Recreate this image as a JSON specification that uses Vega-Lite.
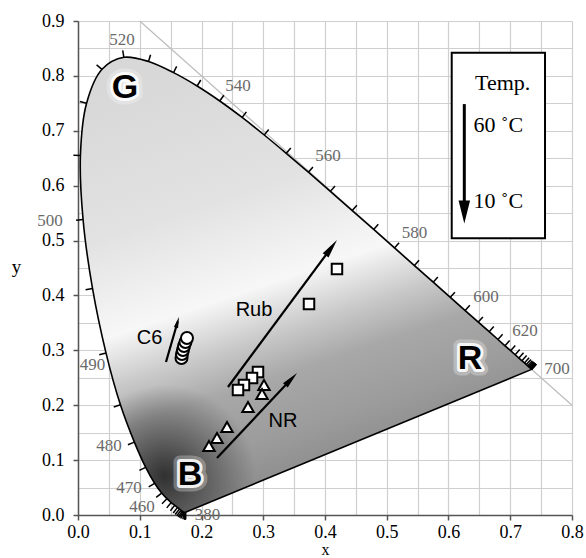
{
  "$schema": "https://vega.github.io/schema/vega-lite/v6.json",
  "width": 494,
  "height": 494,
  "autosize": "none",
  "padding": {"left": 78, "top": 21, "right": 14, "bottom": 43},
  "background": "white",
  "config": {"view": {"stroke": null}},
  "datasets": {
    "locus": [
      {"wl":380,"x":0.1741,"y":0.0050,"x2":0.1741,"y2":-0.0078},
      {"wl":385,"x":0.1740,"y":0.0050,"x2":0.1740,"y2":-0.0078},
      {"wl":390,"x":0.1738,"y":0.0049,"x2":0.1738,"y2":-0.0079},
      {"wl":395,"x":0.1736,"y":0.0049,"x2":0.1736,"y2":-0.0079},
      {"wl":400,"x":0.1733,"y":0.0048,"x2":0.1733,"y2":-0.0080},
      {"wl":405,"x":0.1730,"y":0.0048,"x2":0.1730,"y2":-0.0080},
      {"wl":410,"x":0.1726,"y":0.0048,"x2":0.1726,"y2":-0.0080},
      {"wl":415,"x":0.1721,"y":0.0048,"x2":0.1698,"y2":-0.0077},
      {"wl":420,"x":0.1714,"y":0.0051,"x2":0.1664,"y2":-0.0063},
      {"wl":425,"x":0.1703,"y":0.0058,"x2":0.1642,"y2":-0.0049},
      {"wl":430,"x":0.1689,"y":0.0069,"x2":0.1622,"y2":-0.0034},
      {"wl":435,"x":0.1669,"y":0.0086,"x2":0.1599,"y2":-0.0014},
      {"wl":440,"x":0.1644,"y":0.0109,"x2":0.1573,"y2":0.0009},
      {"wl":445,"x":0.1611,"y":0.0138,"x2":0.1542,"y2":0.0037},
      {"wl":450,"x":0.1566,"y":0.0177,"x2":0.1496,"y2":0.0077},
      {"wl":455,"x":0.1510,"y":0.0227,"x2":0.1437,"y2":0.0130},
      {"wl":460,"x":0.1440,"y":0.0297,"x2":0.1360,"y2":0.0206},
      {"wl":465,"x":0.1355,"y":0.0399,"x2":0.1266,"y2":0.0320},
      {"wl":470,"x":0.1241,"y":0.0578,"x2":0.1145,"y2":0.0511},
      {"wl":475,"x":0.1096,"y":0.0868,"x2":0.0994,"y2":0.0812},
      {"wl":480,"x":0.0913,"y":0.1327,"x2":0.0808,"y2":0.1279},
      {"wl":485,"x":0.0687,"y":0.2007,"x2":0.0579,"y2":0.1968},
      {"wl":490,"x":0.0454,"y":0.2950,"x2":0.0344,"y2":0.2920},
      {"wl":495,"x":0.0235,"y":0.4127,"x2":0.0123,"y2":0.4105},
      {"wl":500,"x":0.0082,"y":0.5384,"x2":-0.0031,"y2":0.5372},
      {"wl":505,"x":0.0039,"y":0.6548,"x2":-0.0074,"y2":0.6552},
      {"wl":510,"x":0.0139,"y":0.7502,"x2":0.0029,"y2":0.7533},
      {"wl":515,"x":0.0389,"y":0.8120,"x2":0.0301,"y2":0.8200},
      {"wl":520,"x":0.0743,"y":0.8338,"x2":0.0724,"y2":0.8464},
      {"wl":525,"x":0.1142,"y":0.8262,"x2":0.1175,"y2":0.8384},
      {"wl":530,"x":0.1547,"y":0.8059,"x2":0.1598,"y2":0.8173},
      {"wl":535,"x":0.1929,"y":0.7816,"x2":0.1988,"y2":0.7925},
      {"wl":540,"x":0.2296,"y":0.7543,"x2":0.2361,"y2":0.7648},
      {"wl":545,"x":0.2658,"y":0.7243,"x2":0.2727,"y2":0.7344},
      {"wl":550,"x":0.3016,"y":0.6923,"x2":0.3088,"y2":0.7022},
      {"wl":555,"x":0.3373,"y":0.6589,"x2":0.3446,"y2":0.6687},
      {"wl":560,"x":0.3731,"y":0.6245,"x2":0.3805,"y2":0.6342},
      {"wl":565,"x":0.4087,"y":0.5896,"x2":0.4162,"y2":0.5992},
      {"wl":570,"x":0.4441,"y":0.5547,"x2":0.4516,"y2":0.5643},
      {"wl":575,"x":0.4788,"y":0.5202,"x2":0.4863,"y2":0.5297},
      {"wl":580,"x":0.5125,"y":0.4866,"x2":0.5200,"y2":0.4961},
      {"wl":585,"x":0.5448,"y":0.4544,"x2":0.5523,"y2":0.4639},
      {"wl":590,"x":0.5752,"y":0.4242,"x2":0.5827,"y2":0.4337},
      {"wl":595,"x":0.6029,"y":0.3965,"x2":0.6104,"y2":0.4060},
      {"wl":600,"x":0.6270,"y":0.3725,"x2":0.6345,"y2":0.3820},
      {"wl":605,"x":0.6482,"y":0.3514,"x2":0.6557,"y2":0.3609},
      {"wl":610,"x":0.6658,"y":0.3340,"x2":0.6733,"y2":0.3435},
      {"wl":615,"x":0.6801,"y":0.3197,"x2":0.6876,"y2":0.3292},
      {"wl":620,"x":0.6915,"y":0.3083,"x2":0.6990,"y2":0.3178},
      {"wl":625,"x":0.7006,"y":0.2993,"x2":0.7081,"y2":0.3088},
      {"wl":630,"x":0.7079,"y":0.2920,"x2":0.7154,"y2":0.3015},
      {"wl":635,"x":0.7140,"y":0.2859,"x2":0.7215,"y2":0.2954},
      {"wl":640,"x":0.7190,"y":0.2809,"x2":0.7265,"y2":0.2904},
      {"wl":645,"x":0.7230,"y":0.2770,"x2":0.7305,"y2":0.2865},
      {"wl":650,"x":0.7260,"y":0.2740,"x2":0.7335,"y2":0.2835},
      {"wl":655,"x":0.7283,"y":0.2717,"x2":0.7358,"y2":0.2812},
      {"wl":660,"x":0.7300,"y":0.2700,"x2":0.7375,"y2":0.2795},
      {"wl":665,"x":0.7311,"y":0.2689,"x2":0.7386,"y2":0.2784},
      {"wl":670,"x":0.7320,"y":0.2680,"x2":0.7395,"y2":0.2775},
      {"wl":675,"x":0.7327,"y":0.2673,"x2":0.7402,"y2":0.2768},
      {"wl":680,"x":0.7334,"y":0.2666,"x2":0.7409,"y2":0.2761},
      {"wl":685,"x":0.7340,"y":0.2660,"x2":0.7415,"y2":0.2755},
      {"wl":690,"x":0.7344,"y":0.2656,"x2":0.7419,"y2":0.2751},
      {"wl":695,"x":0.7346,"y":0.2654,"x2":0.7421,"y2":0.2749},
      {"wl":700,"x":0.7347,"y":0.2653,"x2":0.7422,"y2":0.2748}
    ],
    "purple": [{"x":0.1741,"y":0.0050,"x2":0.7347,"y2":0.2653}],
    "diag": [{"x":0.1,"y":0.9,"x2":0.8,"y2":0.2}],
    "wlLabels": [
      {"label":"520","x":0.0713,"y":0.8652},
      {"label":"540","x":0.2591,"y":0.7814},
      {"label":"560","x":0.4049,"y":0.6539},
      {"label":"580","x":0.5449,"y":0.5137},
      {"label":"600","x":0.6607,"y":0.3971},
      {"label":"620","x":0.7239,"y":0.3352},
      {"label":"700","x":0.7757,"y":0.2659},
      {"label":"500","x":-0.0453,"y":0.5355},
      {"label":"490","x":0.0235,"y":0.2741},
      {"label":"480","x":0.0502,"y":0.1257},
      {"label":"470","x":0.0826,"y":0.0483},
      {"label":"460","x":0.1036,"y":0.0137},
      {"label":"380","x":0.2097,"y":0.0005}
    ],
    "arrows": [
      {"name":"Rub","x":0.2429,"y":0.2332,"x2":0.4116,"y2":0.4892},
      {"name":"NR","x":0.2251,"y":0.1038,"x2":0.3458,"y2":0.2481},
      {"name":"C6","x":0.1425,"y":0.2787,"x2":0.1614,"y2":0.3520}
    ],
    "tips": [
      {"name":"Rub","x":0.4194,"y":0.5009},
      {"name":"NR","x":0.3547,"y":0.2587},
      {"name":"C6","x":0.1636,"y":0.3607}
    ],
    "circles": [
      {"x":0.1676,"y":0.2860},
      {"x":0.1684,"y":0.2933},
      {"x":0.1700,"y":0.3005},
      {"x":0.1717,"y":0.3078},
      {"x":0.1741,"y":0.3151},
      {"x":0.1765,"y":0.3224}
    ],
    "squares": [
      {"x":0.4194,"y":0.4481},
      {"x":0.3741,"y":0.3843},
      {"x":0.2915,"y":0.2605},
      {"x":0.2818,"y":0.2495},
      {"x":0.2688,"y":0.2368},
      {"x":0.2591,"y":0.2277}
    ],
    "triangles": [
      {"x":0.3012,"y":0.2368},
      {"x":0.2980,"y":0.2204},
      {"x":0.2753,"y":0.1967},
      {"x":0.2413,"y":0.1603},
      {"x":0.2251,"y":0.1403},
      {"x":0.2121,"y":0.1257}
    ],
    "regions": [
      {"label":"G","x":0.0761,"y":0.7787},
      {"label":"B","x":0.1814,"y":0.0729},
      {"label":"R","x":0.6348,"y":0.2851}
    ],
    "series": [
      {"label":"Rub","x":0.2850,"y":0.3734},
      {"label":"NR","x":0.3320,"y":0.1721},
      {"label":"C6","x":0.1158,"y":0.3233}
    ],
    "legendBox": [{"x":0.6052,"y":0.8421,"x2":0.7563,"y2":0.5040}],
    "legendText": [
      {"label":"Temp.","x":0.6429,"y":0.7741},
      {"label":"60 ˚C","x":0.6406,"y":0.6985},
      {"label":"10 ˚C","x":0.6406,"y":0.5592}
    ],
    "legendShaft": [{"x":0.6256,"y":0.7486,"x2":0.6256,"y2":0.5495}],
    "legendTip": [{"x":0.6256,"y":0.5313}]
  },
  "encoding": {
    "x": {
      "field": "x", "type": "quantitative",
      "scale": {"domain": [0, 0.8], "nice": false, "zero": false},
      "axis": {
        "title": "x",
        "values": [0,0.05,0.1,0.15,0.2,0.25,0.3,0.35,0.4,0.45,0.5,0.55,0.6,0.65,0.7,0.75,0.8],
        "labelExpr": "round(datum.value*20)%2==0 ? format(datum.value,'.1f') : ''",
        "grid": true, "gridColor": "#cfcfcf", "gridWidth": 1.2,
        "domainColor": "#555555", "domainWidth": 1.5,
        "tickColor": "#555555", "tickWidth": 1.5, "tickSize": 5,
        "tickOpacity": {"condition": {"test": "round(datum.value*20)%2==1", "value": 0}, "value": 1},
        "labelFont": "Liberation Serif", "labelFontSize": 18, "labelColor": "#000000", "labelPadding": 3,
        "labelFlush": false, "labelOverlap": false,
        "titleFont": "Liberation Serif", "titleFontSize": 16, "titleFontWeight": "normal", "titleColor": "#000000",
        "titleY": 42.5, "titleBaseline": "bottom"
      }
    },
    "y": {
      "field": "y", "type": "quantitative",
      "scale": {"domain": [0, 0.9], "nice": false, "zero": false},
      "axis": {
        "title": "y",
        "values": [0,0.05,0.1,0.15,0.2,0.25,0.3,0.35,0.4,0.45,0.5,0.55,0.6,0.65,0.7,0.75,0.8,0.85,0.9],
        "labelExpr": "round(datum.value*20)%2==0 ? format(datum.value,'.1f') : ''",
        "grid": true, "gridColor": "#cfcfcf", "gridWidth": 1.2,
        "domainColor": "#555555", "domainWidth": 1.5,
        "tickColor": "#555555", "tickWidth": 1.5, "tickSize": 5,
        "tickOpacity": {"condition": {"test": "round(datum.value*20)%2==1", "value": 0}, "value": 1},
        "labelFont": "Liberation Serif", "labelFontSize": 18, "labelColor": "#000000", "labelPadding": 9,
        "labelFlush": false, "labelOverlap": false,
        "titleFont": "Liberation Serif", "titleFontSize": 19, "titleFontWeight": "normal", "titleColor": "#000000",
        "titleAngle": 0, "titleX": -62, "titleY": 245, "titleAlign": "center", "titleBaseline": "middle"
      }
    }
  },
  "layer": [
    {
      "data": {"name": "diag"},
      "mark": {"type": "rule", "color": "#bdbdbd", "strokeWidth": 1.2},
      "encoding": {"x2": {"field": "x2"}, "y2": {"field": "y2"}}
    },
    {
      "data": {"name": "locus"},
      "mark": {
        "type": "line", "interpolate": "catmull-rom", "strokeWidth": 0, "strokeOpacity": 0,
        "fill": {
          "gradient": "linear", "x1": 0.3, "y1": 0, "x2": 0.65, "y2": 1.05,
          "stops": [
            {"offset": 0, "color": "#d8d8d8"},
            {"offset": 0.27, "color": "#e2e2e2"},
            {"offset": 0.46, "color": "#f7f7f7"},
            {"offset": 0.56, "color": "#c8c8c8"},
            {"offset": 0.64, "color": "#a8a8a8"},
            {"offset": 0.75, "color": "#9c9c9c"},
            {"offset": 0.85, "color": "#8c8c8c"},
            {"offset": 1, "color": "#7c7c7c"}
          ]
        }
      },
      "encoding": {"order": {"field": "wl", "type": "quantitative"}}
    },
    {
      "data": {"name": "locus"},
      "mark": {
        "type": "line", "interpolate": "catmull-rom", "strokeWidth": 0, "strokeOpacity": 0,
        "fill": {
          "gradient": "radial", "x1": 0.19, "y1": 0.92, "r1": 0, "x2": 0.19, "y2": 0.92, "r2": 0.2,
          "stops": [
            {"offset": 0, "color": "rgba(30,30,30,0.85)"},
            {"offset": 0.4, "color": "rgba(30,30,30,0.5)"},
            {"offset": 1, "color": "rgba(30,30,30,0)"}
          ]
        }
      },
      "encoding": {"order": {"field": "wl", "type": "quantitative"}}
    },
    {
      "data": {"name": "locus"},
      "mark": {"type": "line", "interpolate": "catmull-rom", "color": "#000000", "strokeWidth": 1.6},
      "encoding": {"order": {"field": "wl", "type": "quantitative"}}
    },
    {
      "data": {"name": "purple"},
      "mark": {"type": "rule", "color": "#000000", "strokeWidth": 1.6},
      "encoding": {"x2": {"field": "x2"}, "y2": {"field": "y2"}}
    },
    {
      "data": {"name": "locus"},
      "mark": {"type": "rule", "color": "#000000", "strokeWidth": 1.5},
      "encoding": {"x2": {"field": "x2"}, "y2": {"field": "y2"}}
    },
    {
      "data": {"name": "wlLabels"},
      "mark": {"type": "text", "font": "Liberation Serif", "fontSize": 17, "color": "#6a6a6a", "align": "center", "baseline": "middle"},
      "encoding": {"text": {"field": "label"}}
    },
    {
      "data": {"name": "arrows"},
      "mark": {"type": "rule", "color": "#000000", "strokeWidth": 2.2},
      "encoding": {"x2": {"field": "x2"}, "y2": {"field": "y2"}}
    },
    {
      "data": {"name": "tips"},
      "transform": [{"filter": "datum.name == 'Rub'"}],
      "mark": {"type": "point", "shape": "M0,0L0.38,2L-0.38,2Z", "size": 361, "angle": 36.6, "filled": true, "color": "#000000", "opacity": 1}
    },
    {
      "data": {"name": "tips"},
      "transform": [{"filter": "datum.name == 'NR'"}],
      "mark": {"type": "point", "shape": "M0,0L0.38,2L-0.38,2Z", "size": 289, "angle": 43.3, "filled": true, "color": "#000000", "opacity": 1}
    },
    {
      "data": {"name": "tips"},
      "transform": [{"filter": "datum.name == 'C6'"}],
      "mark": {"type": "point", "shape": "M0,0L0.4,2L-0.4,2Z", "size": 121, "angle": 16.1, "filled": true, "color": "#000000", "opacity": 1}
    },
    {
      "data": {"name": "circles"},
      "mark": {"type": "point", "shape": "circle", "size": 144, "filled": true, "fill": "#ffffff", "stroke": "#000000", "strokeWidth": 2, "opacity": 1}
    },
    {
      "data": {"name": "squares"},
      "mark": {"type": "point", "shape": "square", "size": 110, "filled": true, "fill": "#ffffff", "stroke": "#000000", "strokeWidth": 2, "opacity": 1}
    },
    {
      "data": {"name": "triangles"},
      "mark": {"type": "point", "shape": "triangle-up", "size": 130, "filled": true, "fill": "#ffffff", "stroke": "#000000", "strokeWidth": 2, "opacity": 1}
    },
    {
      "data": {"name": "regions"},
      "mark": {"type": "text", "font": "Liberation Sans", "fontWeight": "bold", "fontSize": 34, "align": "center", "baseline": "middle", "fill": "#ffffff", "stroke": "#ffffff", "strokeWidth": 13, "strokeOpacity": 0.3, "strokeJoin": "round"},
      "encoding": {"text": {"field": "label"}}
    },
    {
      "data": {"name": "regions"},
      "mark": {"type": "text", "font": "Liberation Sans", "fontWeight": "bold", "fontSize": 34, "align": "center", "baseline": "middle", "fill": "#ffffff", "stroke": "#ffffff", "strokeWidth": 6, "strokeOpacity": 0.9, "strokeJoin": "round"},
      "encoding": {"text": {"field": "label"}}
    },
    {
      "data": {"name": "regions"},
      "mark": {"type": "text", "font": "Liberation Sans", "fontWeight": "bold", "fontSize": 34, "align": "center", "baseline": "middle", "color": "#000000"},
      "encoding": {"text": {"field": "label"}}
    },
    {
      "data": {"name": "series"},
      "mark": {"type": "text", "font": "Liberation Sans", "fontSize": 20, "align": "center", "baseline": "middle", "color": "#000000"},
      "encoding": {"text": {"field": "label"}}
    },
    {
      "data": {"name": "legendBox"},
      "mark": {"type": "rect", "fill": "#ffffff", "stroke": "#000000", "strokeWidth": 2},
      "encoding": {"x2": {"field": "x2"}, "y2": {"field": "y2"}}
    },
    {
      "data": {"name": "legendText"},
      "mark": {"type": "text", "font": "Liberation Serif", "fontSize": 22, "align": "left", "baseline": "alphabetic", "color": "#000000"},
      "encoding": {"text": {"field": "label"}}
    },
    {
      "data": {"name": "legendShaft"},
      "mark": {"type": "rule", "color": "#000000", "strokeWidth": 3},
      "encoding": {"x2": {"field": "x2"}, "y2": {"field": "y2"}}
    },
    {
      "data": {"name": "legendTip"},
      "mark": {"type": "point", "shape": "M0,0L0.5,2L-0.5,2Z", "size": 529, "angle": 180, "filled": true, "color": "#000000", "opacity": 1}
    }
  ]
}
